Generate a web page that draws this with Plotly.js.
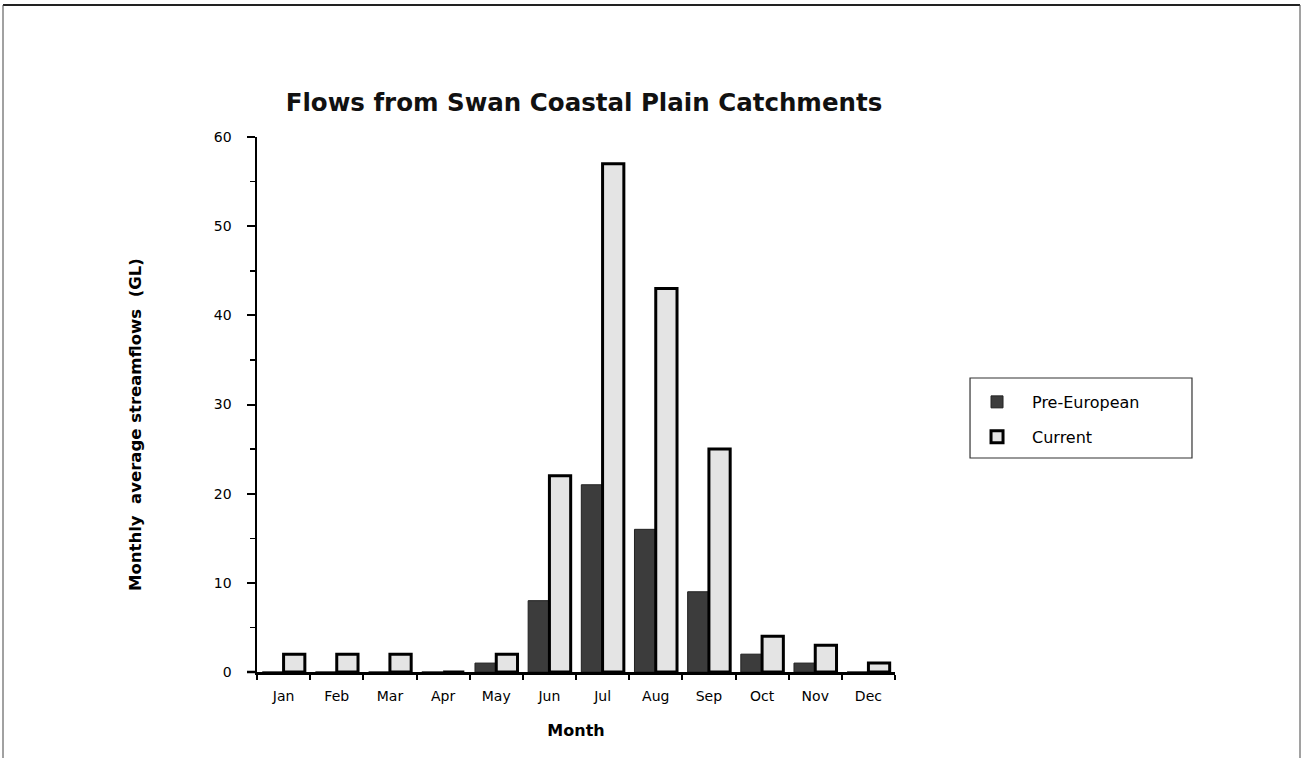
<!DOCTYPE html>
<html>
<head>
<meta charset="utf-8">
<script src="https://cdn.plot.ly/plotly-3.0.1.min.js"></script>
<style>html,body{margin:0;padding:0;background:#fff;}#chart{width:1303px;height:758px;}</style>
</head>
<body>
<div id="chart"></div>
<script>
const months = ["Jan","Feb","Mar","Apr","May","Jun","Jul","Aug","Sep","Oct","Nov","Dec"];
const preEuropean = [0, 0, 0, 0, 1, 8, 21, 16, 9, 2, 1, 0];
const current = [2, 2, 2, 0, 2, 22, 57, 43, 25, 4, 3, 1];
const seriesNames = ["Pre-European", "Current"];
const yTitle = "Monthly  average streamflows  (GL)";

const FONT = "DejaVu Sans, Verdana, sans-serif";

const traces = [
  {
    type: "bar", name: seriesNames[0], x: months, y: preEuropean, legendgroup: "a",
    marker: {color: "#3c3c3c", line: {color: "#222222", width: 1}}
  },
  {
    type: "bar", name: seriesNames[1], x: months, y: current, legendgroup: "b",
    marker: {color: "#e4e4e4", line: {color: "#000000", width: 3}}
  }
];

const layout = {
  width: 1303, height: 758,
  paper_bgcolor: "#ffffff", plot_bgcolor: "#ffffff",
  margin: {l: 257, r: 408, t: 137, b: 86},
  font: {family: FONT, color: "#000", size: 14},
  barmode: "group", bargap: 0.2, bargroupgap: 0,
  title: {
    text: "<b>Flows from Swan Coastal Plain Catchments</b>",
    font: {family: FONT, size: 24.5, color: "#111"},
    x: 0.5125, xanchor: "center", xref: "paper",
    y: 0.8654, yref: "container", yanchor: "middle"
  },
  xaxis: {
    type: "category", range: [-0.5, 11.5],
    showline: true, linecolor: "#000", linewidth: 2.5,
    ticks: "outside", tickson: "boundaries", ticklen: 5, tickcolor: "#000", tickwidth: 2,
    ticklabelstandoff: 10,
    showgrid: false, zeroline: false,
    tickfont: {family: FONT, size: 14},
    title: {text: "<b>Month</b>", font: {family: FONT, size: 16}, standoff: 22}
  },
  yaxis: {
    range: [0, 60], dtick: 10, tick0: 0,
    showline: true, linecolor: "#000", linewidth: 2.5,
    ticks: "outside", ticklen: 8, tickcolor: "#000", tickwidth: 2,
    ticklabelstandoff: 12,
    minor: {dtick: 5, ticks: "outside", ticklen: 5, tickcolor: "#000", tickwidth: 1.5},
    showgrid: false, zeroline: false,
    tickfont: {family: FONT, size: 14}
  },
  legend: {
    x: 1.1176, y: 0.5365, xanchor: "left", yanchor: "top",
    borderwidth: 0, bgcolor: "rgba(0,0,0,0)",
    font: {family: FONT, size: 16},
    itemwidth: 60, indentation: -8,
    traceorder: "grouped", tracegroupgap: 11
  },
  showlegend: true,
  annotations: [
    {text: "<b>" + yTitle + "</b>", textangle: -90, xref: "paper", yref: "paper",
     x: -0.1897, y: 0.4636, xanchor: "center", yanchor: "middle", showarrow: false,
     font: {family: FONT, size: 16.5, color: "#000"}}
  ],
  shapes: [
    {type: "rect", xref: "paper", yref: "paper", x0: 1.1176, x1: 1.4655, y0: 0.40, y1: 0.5495, line: {color: "#333", width: 1.2}, fillcolor: "rgba(0,0,0,0)"},
    {type: "line", xref: "paper", yref: "paper", x0: -0.0157, x1: 0, y0: 0, y1: 0, line: {color: "#000", width: 2.5}},
    {type: "line", xref: "paper", yref: "paper", x0: -0.3981, x1: 1.6348, y0: 1.2467, y1: 1.2467, line: {color: "#222", width: 2}},
    {type: "line", xref: "paper", yref: "paper", x0: -0.3981, x1: -0.3981, y0: 1.2467, y1: -0.2, line: {color: "#444", width: 1}},
    {type: "line", xref: "paper", yref: "paper", x0: 1.6348, x1: 1.6348, y0: 1.2467, y1: -0.2, line: {color: "#444", width: 1}}
  ]
};

Plotly.newPlot("chart", traces, layout, {displayModeBar: false, staticPlot: true});
</script>
</body>
</html>
